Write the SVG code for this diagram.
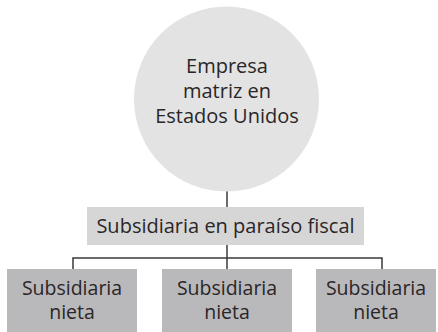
<svg xmlns="http://www.w3.org/2000/svg" width="438" height="332" viewBox="0 0 438 332">
<style>
text{font-family:"Open Sans","Noto Sans","Liberation Sans",sans-serif;font-size:20px;fill:#2a2627;text-anchor:middle}
.sm{font-size:19.5px}
.ln{stroke:#3a3a3a;stroke-width:1.5;fill:none}
.leaf{fill:#b9b9bb}
</style>
<rect width="438" height="332" fill="#ffffff"/>
<g id="connectors">
<line class="ln" x1="227" y1="191" x2="227" y2="207"/>
<line class="ln" x1="227" y1="245" x2="227" y2="270"/>
<polyline class="ln" points="73,270 73,258 382,258 382,270"/>
</g>
<g id="parent">
<circle cx="226.5" cy="99" r="92.5" fill="#e3e3e4"/>
<text x="227" y="73">Empresa</text>
<text x="227" y="98">matriz en</text>
<text x="227" y="123">Estados Unidos</text>
</g>
<g id="haven">
<rect x="87" y="207" width="277" height="38" fill="#d6d6d7"/>
<text x="225.5" y="233">Subsidiaria en paraíso fiscal</text>
</g>
<g id="nieta1">
<rect class="leaf" x="7" y="269" width="130" height="63"/>
<text class="sm" x="72" y="295">Subsidiaria</text>
<text class="sm" x="72" y="319">nieta</text>
</g>
<g id="nieta2">
<rect class="leaf" x="162" y="269" width="130" height="63"/>
<text class="sm" x="227" y="295">Subsidiaria</text>
<text class="sm" x="227" y="319">nieta</text>
</g>
<g id="nieta3">
<rect class="leaf" x="316" y="269" width="120" height="63"/>
<text class="sm" x="376" y="295">Subsidiaria</text>
<text class="sm" x="376" y="319">nieta</text>
</g>
</svg>
